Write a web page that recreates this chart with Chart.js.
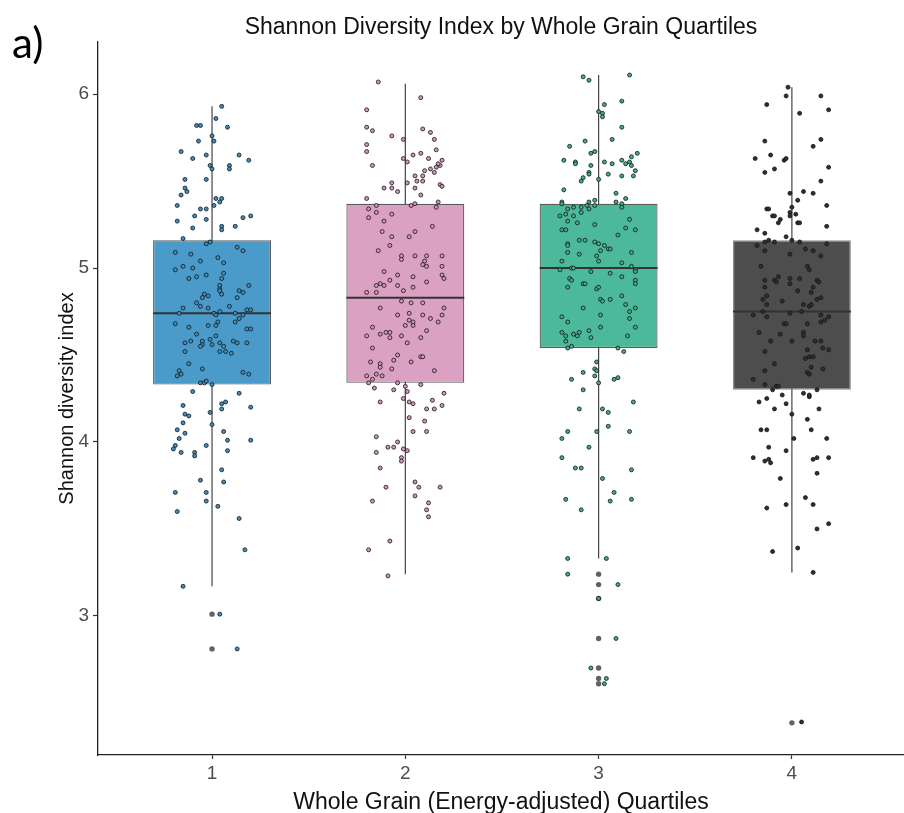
<!DOCTYPE html>
<html>
<head>
<meta charset="utf-8">
<script src="https://cdn.jsdelivr.net/npm/chart.js@4.4.1/dist/chart.umd.min.js"></script>
<style>
html, body { margin: 0; padding: 0; background: #fff; }
</style>
</head>
<body>
<canvas id="boxChart" width="904" height="813"></canvas>
<script>
// quartile groups and box statistics
const quartiles = ["1", "2", "3", "4"];
const lowerWhisker = [3.17, 3.24, 3.33, 3.25];
const lowerQuartile = [4.33, 4.34, 4.54, 4.30];
const medians = [4.74, 4.83, 5.00, 4.75];
const upperQuartile = [5.16, 5.37, 5.37, 5.16];
const upperWhisker = [5.93, 6.06, 6.11, 6.04];
const outliers = [[3.01, 2.81], [], [3.24, 3.18, 3.10, 2.87, 2.70, 2.64, 2.61], [2.385]];

// jittered observations: [horizontal jitter, Shannon index]
const jitterQ1 = [[0.05,5.93],[0.02,5.86],[-0.08,5.82],[-0.06,5.82],[0.08,5.81],[0,5.76],[-0.07,5.73],[0.01,5.73],[-0.16,5.67],[-0.03,5.65],[0.14,5.65],[-0.10,5.63],[0.19,5.62],[-0.01,5.59],[0.09,5.59],[0,5.57],[0.09,5.57],[-0.14,5.51],[-0.03,5.51],[-0.14,5.46],[-0.13,5.44],[-0.16,5.42],[0.02,5.40],[0.05,5.40],[0.04,5.38],[-0.18,5.36],[0.01,5.36],[-0.06,5.34],[-0.03,5.34],[-0.09,5.30],[0.20,5.30],[0.16,5.29],[-0.03,5.28],[-0.18,5.27],[0.05,5.24],[0.05,5.22],[0.12,5.24],[-0.10,5.23],[-0.15,5.17],[-0.03,5.14],[-0.01,5.15],
  [0.13,5.12],[0.16,5.10],[-0.19,5.09],[-0.11,5.08],[0.03,5.06],[-0.06,5.04],[0.06,5.03],[-0.15,5.01],[-0.10,5.00],[-0.19,4.99],[0.06,4.97],[-0.03,4.96],[-0.08,4.95],[-0.12,4.94],[0.05,4.94],[0.19,4.90],[0.04,4.90],[0.04,4.88],[0.04,4.87],[0.14,4.87],[0.16,4.86],[0.05,4.85],[-0.04,4.85],[-0.02,4.84],[-0.05,4.83],[0.13,4.83],[-0.08,4.80],[-0.06,4.78],[-0.02,4.77],[0.09,4.78],[-0.15,4.77],[-0.17,4.74],[0.01,4.74],[0.04,4.75],[0.02,4.73],[0.03,4.69],[0.12,4.74],[0.14,4.71],[0.16,4.73],[0.18,4.76],[0.20,4.76],[0.12,4.69],[-0.19,4.68],[-0.12,4.66],[-0.02,4.67],[0.02,4.67],[0.18,4.65],[0.20,4.65],[-0.08,4.62],[0.02,4.61],[-0.11,4.58],[-0.14,4.57],[-0.05,4.58],[-0.01,4.59],[0.11,4.58],[0.13,4.57],[-0.05,4.56],[-0.06,4.55],[0,4.56],[0.04,4.57],[0.18,4.57],[0.06,4.55],[0.07,4.52],[-0.14,4.52],[0.04,4.52],[0.10,4.51],[-0.12,4.45],[-0.05,4.42],[-0.17,4.41],[-0.16,4.39],[-0.18,4.38],[0.16,4.40],[0.19,4.39],
  [-0.06,4.34],[-0.04,4.34],[-0.03,4.35],[0,4.33],[-0.10,4.29],[0.14,4.28],[-0.15,4.21],[0.05,4.22],[0.07,4.23],[0.05,4.19],[0.20,4.20],[-0.01,4.17],[-0.14,4.16],[-0.12,4.15],[-0.15,4.11],[0,4.10],[-0.18,4.07],[-0.14,4.05],[0.06,4.06],[-0.17,4.02],[0.08,4.01],[0.20,4.01],[-0.19,3.98],[-0.20,3.96],[-0.16,3.94],[-0.09,3.94],[-0.09,3.92],[-0.03,3.98],[0.08,3.95],[0.05,3.84],[-0.06,3.78],[0.06,3.77],[-0.19,3.71],[-0.03,3.71],[-0.03,3.66],[0.03,3.63],[-0.18,3.60],[0.14,3.56],[0.17,3.38],[-0.15,3.17],[0.04,3.01],[0.13,2.81]];

const jitterQ2 = [[-0.14,6.07],[0.08,5.98],[-0.20,5.91],[-0.20,5.81],[-0.17,5.79],[0.09,5.80],[0.13,5.78],[-0.07,5.76],[-0.01,5.74],[0.15,5.74],[-0.20,5.71],[-0.20,5.67],[0.16,5.68],[0.04,5.65],[0.08,5.66],[0.12,5.63],[-0.01,5.63],[0.01,5.61],[0.19,5.62],[-0.17,5.59],[0.10,5.56],[0.13,5.57],[0.15,5.55],[0.16,5.58],[0.18,5.59],[0.17,5.60],[0.05,5.53],[0.06,5.50],[0.09,5.53],[0.09,5.50],[0.01,5.49],[-0.07,5.49],[-0.11,5.46],[-0.07,5.46],[-0.04,5.44],[0.05,5.46],[0.18,5.48],[0.19,5.47],[0.08,5.42],[-0.20,5.40],[0.17,5.38],
  [-0.19,5.34],[-0.15,5.36],[0.03,5.36],[0.05,5.37],[0.16,5.35],[-0.15,5.32],[-0.19,5.29],[-0.07,5.31],[-0.11,5.27],[0.14,5.24],[-0.12,5.21],[-0.07,5.18],[0.02,5.18],[0.05,5.21],[-0.08,5.13],[-0.14,5.10],[-0.02,5.07],[-0.02,5.05],[0.05,5.07],[0.11,5.07],[0.19,5.07],[0.10,5.04],[0.09,5.02],[0.11,5.01],[0.19,5.01],[-0.11,4.98],[-0.04,4.96],[0.04,4.95],[0.19,4.96],[0.20,4.94],[-0.08,4.93],[-0.15,4.90],[-0.13,4.91],[-0.11,4.90],[-0.04,4.90],[0.04,4.89],[0.11,4.92],[-0.20,4.86],[-0.15,4.86],[-0.01,4.87],
  [-0.02,4.81],[0.03,4.80],[0.09,4.80],[-0.13,4.77],[0.20,4.77],[-0.04,4.73],[0.02,4.74],[0.09,4.73],[0.19,4.73],[0.13,4.71],[0.17,4.69],[0.02,4.70],[0.04,4.69],[0,4.67],[0.04,4.67],[-0.17,4.66],[0.11,4.64],[-0.13,4.62],[-0.10,4.63],[-0.08,4.63],[-0.08,4.60],[-0.20,4.61],[-0.02,4.61],[0.08,4.60],[0.01,4.57],[-0.17,4.54],[-0.04,4.50],[0.08,4.49],[0.09,4.49],[-0.18,4.46],[-0.13,4.45],[-0.13,4.43],[-0.06,4.47],[0.03,4.46],
  [0.15,4.41],[-0.20,4.38],[-0.15,4.39],[-0.12,4.38],[-0.07,4.42],[-0.17,4.36],[-0.19,4.34],[-0.16,4.31],[-0.04,4.34],[-0.06,4.30],[0,4.32],[0.01,4.29],[0.08,4.33],[0.20,4.28],[-0.01,4.25],[0.02,4.23],[0.04,4.22],[-0.13,4.23],[0.14,4.24],[0.11,4.19],[0.15,4.19],[0.19,4.21],[0.02,4.14],[0.10,4.12],[0.04,4.06],[0.11,4.06],[-0.15,4.03],[-0.04,4.00],[-0.09,3.97],[-0.06,3.97],[-0.01,3.96],[0.01,3.95],[-0.15,3.94],[-0.02,3.91],[-0.02,3.89],[-0.13,3.85],[0.05,3.77],[0.07,3.74],[-0.10,3.74],[0.18,3.74],[0.05,3.69],[0.12,3.65],[-0.17,3.66],[0.11,3.61],[0.12,3.57],[-0.08,3.43],[-0.19,3.38],[-0.09,3.23]];

const jitterQ3 = [[-0.08,6.10],[-0.05,6.08],[0.16,6.11],[0.12,5.96],[0.03,5.94],[0,5.90],[0.02,5.89],[0.02,5.87],[0.12,5.81],[-0.07,5.73],[0.07,5.74],[-0.15,5.70],[-0.04,5.66],[-0.02,5.67],[0.20,5.66],[-0.18,5.62],[-0.12,5.61],[-0.12,5.60],[0.03,5.61],[0.07,5.60],[0.12,5.62],[0.14,5.60],[0.16,5.61],[0.17,5.64],[0.17,5.59],[0.19,5.56],[-0.04,5.59],[-0.05,5.55],[-0.05,5.54],[0.05,5.54],[0.12,5.53],[0.18,5.53],[-0.08,5.52],[-0.09,5.50],[0,5.51],[-0.18,5.45],[0.09,5.43],[0.14,5.40],[-0.02,5.39],[-0.05,5.38],[-0.19,5.38],[0.09,5.38],[0.12,5.37],
  [-0.19,5.37],[-0.13,5.35],[-0.16,5.34],[-0.09,5.35],[-0.06,5.36],[-0.05,5.34],[-0.02,5.36],[0.12,5.35],[-0.20,5.30],[-0.17,5.31],[-0.13,5.30],[-0.09,5.32],[-0.16,5.27],[-0.11,5.26],[-0.02,5.25],[0.16,5.28],[-0.19,5.22],[-0.17,5.22],[0.14,5.23],[0.19,5.22],[0.10,5.19],[-0.16,5.14],[-0.16,5.13],[-0.16,5.09],[-0.10,5.16],[-0.07,5.16],[-0.02,5.15],[0,5.14],[0.03,5.13],[0.05,5.11],[0.06,5.11],[0.01,5.10],[-0.10,5.08],[-0.01,5.07],[0,5.04],[-0.19,5.04],[0.12,5.03],[0.17,5.09],[0.17,5.01],[0.19,4.99],[-0.20,4.99],[-0.14,5.00],[-0.13,5.00],[-0.04,4.98],[0.06,4.97],[0.19,4.98],
  [0.12,4.95],[-0.15,4.94],[-0.14,4.93],[-0.16,4.89],[-0.08,4.91],[-0.07,4.91],[-0.01,4.88],[0,4.89],[0.19,4.93],[0.19,4.91],[0.12,4.84],[0.01,4.82],[0.02,4.81],[0.06,4.82],[-0.08,4.77],[0.14,4.79],[0.19,4.77],[0.16,4.75],[0.16,4.71],[0.01,4.73],[-0.19,4.72],[-0.16,4.69],[0.01,4.66],[0.19,4.66],[-0.19,4.63],[-0.17,4.61],[-0.17,4.58],[-0.13,4.62],[-0.11,4.61],[-0.10,4.63],[-0.05,4.64],[0.15,4.61],[-0.04,4.60],[-0.16,4.54],[-0.14,4.55],[0.10,4.54],[0.13,4.52],
  [-0.01,4.46],[-0.02,4.42],[-0.01,4.41],[-0.02,4.38],[0,4.34],[-0.08,4.40],[-0.14,4.36],[-0.08,4.30],[0.08,4.36],[0.10,4.37],[0.18,4.23],[-0.10,4.19],[0.02,4.19],[0.05,4.17],[0.05,4.09],[-0.16,4.06],[-0.01,4.06],[0.16,4.06],[-0.19,4.02],[-0.05,3.97],[-0.19,3.91],[-0.12,3.85],[-0.09,3.85],[0.17,3.84],[0.02,3.79],[0.08,3.71],[0.06,3.66],[-0.17,3.67],[0.17,3.67],[-0.09,3.61],[-0.16,3.33],[0.04,3.33],[-0.16,3.24],[0.10,3.18],[0,3.10],[0.09,2.87],[-0.04,2.70],[0.04,2.64],[0.03,2.61]];

const jitterQ4 = [[-0.02,6.04],[-0.03,5.99],[0.15,5.99],[-0.13,5.94],[0.19,5.91],[0.04,5.89],[-0.14,5.73],[0.15,5.74],[0.11,5.70],[-0.11,5.65],[-0.19,5.63],[-0.04,5.62],[-0.03,5.63],[-0.14,5.55],[-0.09,5.57],[0.19,5.58],[0.15,5.50],[-0.01,5.43],[0.06,5.44],[0.11,5.43],[0.03,5.39],[0.18,5.36],[-0.13,5.34],[-0.12,5.34],[0,5.35],[-0.01,5.32],[-0.01,5.30],[0.02,5.31],[-0.10,5.30],[-0.09,5.30],[-0.06,5.28],[-0.07,5.26],[0.03,5.26],[0.04,5.26],[0.18,5.24],[-0.18,5.22],[-0.14,5.20],[-0.03,5.18],[-0.14,5.15],[-0.12,5.16],[-0.09,5.15],[0,5.16],[0.04,5.15],
  [-0.18,5.13],[-0.14,5.10],[-0.01,5.08],[0.07,5.11],[0.11,5.10],[0.15,5.07],[0.18,5.14],[-0.16,5.01],[0.08,5.01],[0.09,4.99],[-0.14,4.93],[-0.09,4.93],[-0.08,4.92],[-0.07,4.95],[-0.01,4.94],[0.04,4.94],[0.13,4.93],[0.14,4.92],[-0.01,4.91],[0.11,4.89],[-0.14,4.89],[0.03,4.87],[0.10,4.86],[-0.13,4.84],[-0.15,4.82],[-0.05,4.81],[0.13,4.82],[0.15,4.83],[-0.13,4.79],[0.06,4.79],[0.09,4.78],[0.10,4.79],
  [-0.15,4.75],[-0.20,4.73],[-0.13,4.72],[-0.01,4.74],[0.05,4.75],[0.15,4.73],[0.19,4.72],[0.15,4.69],[0.17,4.70],[-0.04,4.68],[-0.03,4.68],[0.08,4.68],[-0.17,4.63],[-0.06,4.62],[0.06,4.63],[0.06,4.61],[-0.11,4.58],[0,4.58],[0.12,4.58],[0.15,4.58],[-0.14,4.52],[0.08,4.53],[0.16,4.54],[0.19,4.53],[0.07,4.48],[0.09,4.49],[0.11,4.49],[-0.09,4.45],
  [-0.14,4.41],[0.10,4.43],[0.16,4.42],[0.08,4.40],[0.09,4.39],[-0.20,4.36],[-0.14,4.33],[-0.10,4.30],[-0.08,4.32],[-0.07,4.32],[0.13,4.30],[-0.05,4.27],[0.06,4.28],[0.09,4.26],[0.09,4.27],[-0.17,4.23],[-0.13,4.25],[-0.03,4.22],[-0.09,4.19],[0.14,4.19],[0,4.16],[0.08,4.13],[-0.16,4.07],[-0.13,4.07],[0.10,4.07],[0.01,4.02],[0.18,4.02],[-0.12,3.97],[-0.03,3.95],[-0.20,3.91],[-0.14,3.89],[-0.12,3.90],[-0.11,3.88],[0.11,3.90],[0.13,3.91],[0.19,3.91],[0.13,3.82],[-0.06,3.79],[0.07,3.68],[0.11,3.64],[-0.13,3.62],[-0.03,3.64],[0.19,3.53],[0.13,3.50],[0.03,3.39],[-0.10,3.37],[0.11,3.25],[0.05,2.39]];

const jitterAll = [jitterQ1, jitterQ2, jitterQ3, jitterQ4];
const yTicks = [3, 4, 5, 6];

const boxFill = ["#4a9bca", "#dba1c3", "#4cb99a", "#4d4d4d"];
const pointFill = ["#3d8fc2", "#d694bc", "#3fae8d", "#2f2f2f"];
const boxWidth = 0.61;
const fontFamily = "'Liberation Sans', Arial, sans-serif";

const datasets = [];

// whiskers (drawn first, behind the boxes)
quartiles.forEach((q, i) => {
    datasets.push({
        type: "line",
        data: [{x: i + 1, y: lowerWhisker[i]}, {x: i + 1, y: upperWhisker[i]}],
        borderColor: "#444",
        borderWidth: 1.2,
        pointRadius: 0,
        order: 5
    });
});

// boxes as floating bars
datasets.push({
    type: "bar",
    data: quartiles.map((q, i) => ({x: i + 1, y: [lowerQuartile[i], upperQuartile[i]]})),
    backgroundColor: boxFill,
    borderColor: ["#5a5a5a", "#5a5a5a", "#5a5a5a", "#8a8a8a"],
    borderWidth: 1.2,
    borderSkipped: false,
    barPercentage: boxWidth,
    categoryPercentage: 1,
    order: 4
});

// median lines
quartiles.forEach((q, i) => {
    datasets.push({
        type: "line",
        data: [{x: i + 1 - boxWidth / 2, y: medians[i]}, {x: i + 1 + boxWidth / 2, y: medians[i]}],
        borderColor: "#333",
        borderWidth: 2,
        pointRadius: 0,
        order: 3
    });
});

// outliers at the box centre
datasets.push({
    type: "scatter",
    data: outliers.flatMap((vals, i) => vals.map(v => ({x: i + 1, y: v}))),
    backgroundColor: "#626262",
    borderWidth: 0,
    pointRadius: 2.7,
    order: 2
});

// jittered points on top
jitterAll.forEach((pts, i) => {
    datasets.push({
        type: "scatter",
        data: pts.map(p => ({x: i + 1 + p[0], y: p[1]})),
        backgroundColor: pointFill[i],
        borderColor: "#151515",
        borderWidth: 0.8,
        pointRadius: 2,
        order: 1
    });
});

const panelLabel = {
    id: "panelLabel",
    afterDraw(chart) {
        const ctx = chart.ctx;
        ctx.save();
        ctx.fillStyle = "#000";
        ctx.font = "42px Lato, 'Open Sans', sans-serif";
        ctx.textBaseline = "alphabetic";
        ctx.fillText("a)", 12, 58);
        ctx.restore();
    }
};

new Chart(document.getElementById("boxChart"), {
    type: "scatter",
    data: {datasets: datasets},
    plugins: [panelLabel],
    options: {
        responsive: false,
        animation: false,
        events: [],
        layout: {padding: 0, autoPadding: false},
        plugins: {
            legend: {display: false},
            tooltip: {enabled: false},
            title: {
                display: true,
                text: "Shannon Diversity Index by Whole Grain Quartiles",
                fullSize: false,
                color: "#111",
                font: {family: fontFamily, size: 23, weight: "normal"},
                padding: {top: 13.5, bottom: 0.9}
            }
        },
        scales: {
            x: {
                type: "linear",
                min: 0.41,
                max: 4.58,
                offset: false,
                afterBuildTicks: s => { s.ticks = quartiles.map((q, i) => ({value: i + 1})); },
                afterFit: s => { s.height = 58; },
                ticks: {
                    callback: (v) => quartiles[Math.round(v) - 1],
                    color: "#4d4d4d",
                    font: {family: fontFamily, size: 19},
                    padding: 3,
                    maxRotation: 0
                },
                grid: {offset: false, drawOnChartArea: false, tickLength: 4, tickColor: "#333", tickWidth: 1.2},
                border: {display: true, color: "#222", width: 1.3},
                title: {
                    display: true,
                    text: "Whole Grain (Energy-adjusted) Quartiles",
                    color: "#111",
                    font: {family: fontFamily, size: 23},
                    padding: {top: 0, bottom: -3}
                }
            },
            y: {
                type: "linear",
                min: 2.2,
                max: 6.3,
                afterBuildTicks: s => { s.ticks = yTicks.map(v => ({value: v})); },
                afterFit: s => { s.width = 98; },
                ticks: {
                    color: "#4d4d4d",
                    font: {family: fontFamily, size: 19},
                    padding: 4
                },
                grid: {drawOnChartArea: false, tickLength: 5, tickColor: "#333", tickWidth: 1.2},
                border: {display: true, color: "#222", width: 1.3},
                title: {
                    display: true,
                    text: "Shannon diversity index",
                    color: "#111",
                    font: {family: fontFamily, size: 20},
                    padding: {top: 55, bottom: 0}
                }
            }
        }
    }
});
</script>
</body>
</html>
